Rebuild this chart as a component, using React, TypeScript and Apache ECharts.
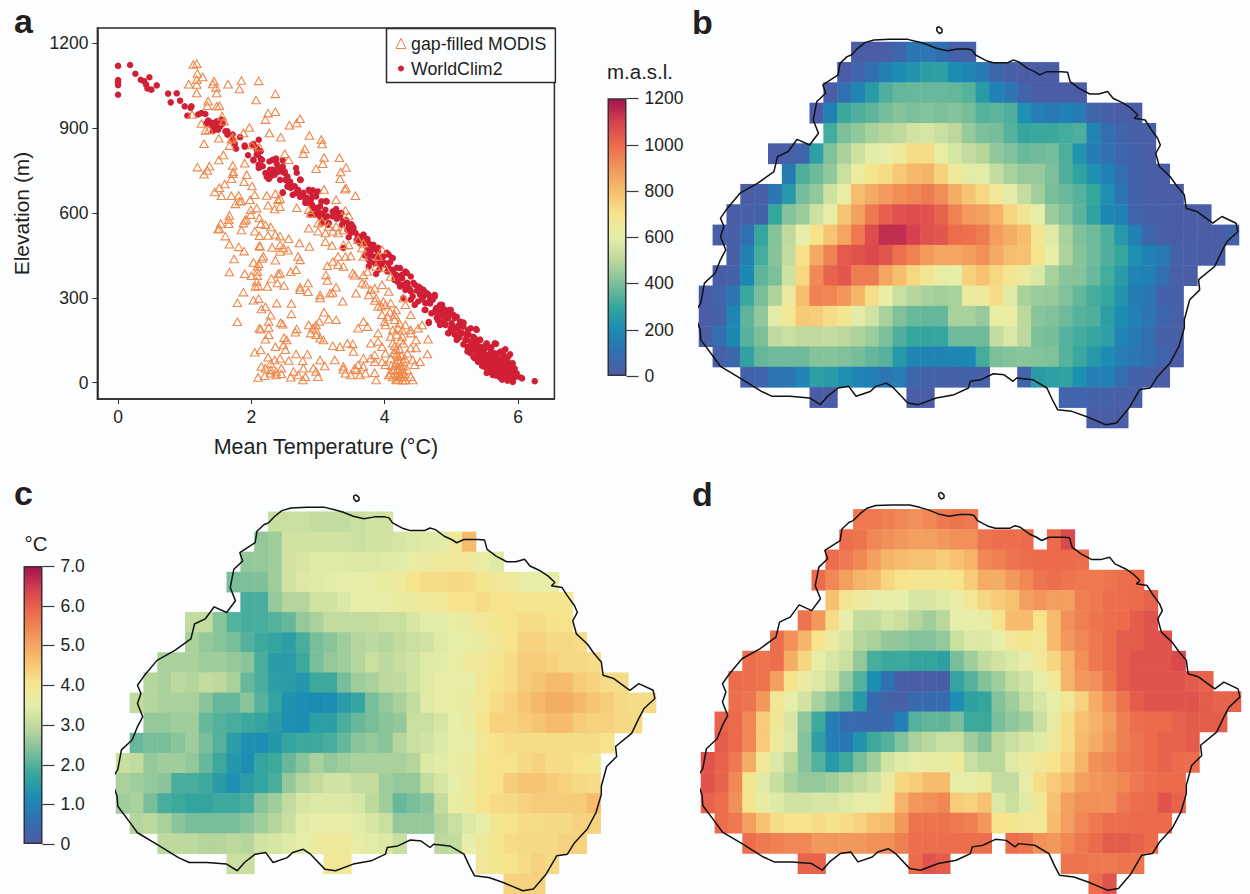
import React, { useEffect, useRef } from "react";
import * as echarts from "echarts";

const FONT = '"Liberation Sans", Arial, sans-serif';
const INK = "#231f20";
const PAGE = "#fcfdfe";

const spectral = ["#505aa5","#2f70b2","#1a8cb5","#36a79c","#7dbf9b","#bcd89c","#e6eea9","#f6e48d","#f6bd6d","#f2955a","#ec6c4b","#d6404f","#a4124f"];

const tempTicks = [0, 2, 4, 6];
const elevTicks = [0, 300, 600, 900, 1200];
const metreTicks = [0, 200, 400, 600, 800, 1000, 1200];
const degreeTicks = [0, 1, 2, 3, 4, 5, 6, 7];

const modisPoints: number[][] = [
[1.13,1125],[1.18,1128],[1.19,1093],[1.27,1081],[1.18,1071],[1.06,1055],[1.18,1054],[1.18,1024],[1.44,1066],[1.42,1056],[1.47,1044],[1.48,1024],[1.65,1055],[1.85,1068],[1.82,1038],[2.11,1067],[2.07,999],[2.36,1021],[1.35,995],[1.34,979],[1.48,977],[1.52,979],[2.25,953],[2.36,958],[2.21,930],[2.73,933],[2.68,918],[2.57,910],[1.11,948],[1.56,942],[1.59,924],[1.25,916],[1.31,892],[1.36,894],[1.97,902],[2.27,883],[2.44,868],[1.88,883],[2.87,874],[3.05,860],[3.06,844],[1.51,864],[1.29,845],[1.67,838],[1.70,861],[1.72,868],[2.01,840],[2.12,833],[2.80,826],[2.78,809],[2.50,809],[1.58,805],[1.51,787],[3.09,796],[3.32,795],[2.56,788],[1.90,776],[1.72,768],[1.19,762],[1.37,765],[1.34,750],[1.29,737],[3.07,774],[2.97,756],[3.42,761],[3.34,745],[3.33,721],[1.72,739],[1.73,746],[1.70,721],[1.93,735],[1.89,710],[1.60,702],[1.52,689],[1.45,674],[1.55,661],[1.70,661],[1.81,662],[2.01,695],[2.05,664],[2.23,662],[2.36,668],[2.43,650],[2.40,647],[1.76,632],[1.82,641],[1.98,647],[1.85,642],[2.25,627],[2.43,622],[2.35,614],[2.68,618],[2.08,617],[3.09,683],[3.40,684],[3.42,688],[3.56,661],[3.27,647],[3.41,609],[3.46,591],[2.86,611],[2.89,599],[1.99,611],[1.99,594],[1.67,591],[1.66,576],[1.92,578],[1.88,564],[1.90,573],[1.54,563],[1.66,562],[1.52,545],[1.50,542],[1.85,540],[2.12,582],[2.14,562],[2.21,558],[2.29,550],[2.05,535],[2.12,519],[2.25,520],[2.36,524],[2.43,518],[2.56,509],[1.61,518],[1.67,489],[1.81,480],[1.89,465],[2.12,484],[2.13,481],[2.31,478],[2.43,487],[2.48,476],[2.43,464],[2.55,468],[2.72,494],[2.87,481],[3.11,498],[3.21,485],[1.74,437],[2.18,446],[2.16,439],[2.36,433],[2.70,446],[2.73,434],[1.67,391],[1.90,385],[2.03,425],[2.11,420],[2.09,411],[2.09,393],[2.00,378],[2.09,378],[2.43,387],[2.59,392],[2.67,399],[2.08,358],[2.10,342],[2.06,340],[2.24,340],[2.30,368],[2.40,384],[2.39,352],[2.49,343],[2.73,337],[2.85,352],[2.73,328],[2.85,321],[1.88,320],[2.11,297],[2.03,291],[1.79,282],[2.38,281],[2.60,280],[2.15,260],[2.21,268],[2.29,238],[2.26,216],[2.60,243],[1.79,215],[2.44,212],[2.47,206],[2.12,192],[2.14,189],[2.26,195],[2.26,169],[2.21,153],[2.68,190],[2.66,178],[2.49,159],[2.53,151],
[2.86,546],[3.00,564],[3.06,570],[3.16,552],[3.27,552],[3.22,535],[3.30,529],[3.38,540],[3.11,529],[3.00,535],[3.60,505],[3.68,493],[3.46,487],[3.38,487],[3.41,446],[3.49,448],[3.30,446],[3.22,428],[3.14,413],[3.66,476],[3.68,446],[3.90,446],[3.96,470],[3.87,411],[4.01,405],[4.09,375],[3.74,393],[3.68,381],[3.38,411],[3.52,387],[3.55,380],[3.30,417],[3.12,381],[3.14,361],[3.27,337],[3.22,319],[3.18,316],[3.03,310],[3.03,299],[3.37,288],[3.57,316],[3.66,352],[3.71,348],[3.79,328],[3.76,310],[3.96,346],[3.85,334],[3.87,299],[3.98,287],[4.06,322],[4.28,299],[4.31,275],[3.90,269],[4.01,275],[4.09,281],[4.17,257],[4.39,240],[3.96,240],[4.04,234],[4.15,222],[4.56,204],[3.68,216],[3.60,192],[3.74,198],[3.90,175],[4.01,204],[4.12,186],[4.20,192],[4.31,204],[4.39,186],[4.50,192],[3.90,145],[4.09,163],[4.26,163],[4.39,175],[4.47,151],[4.65,153],[4.64,101],[4.53,74],[3.79,139],[3.96,127],[4.12,139],[4.28,139],[4.39,122],[4.47,122],[3.85,98],[4.01,104],[4.17,116],[4.34,104],[4.42,80],[3.79,86],[3.96,74],[4.09,86],[4.20,92],[4.28,74],[3.68,86],[3.60,63],[3.85,74],[4.01,63],[4.17,68],[4.28,57],[4.45,63],[4.09,33],[4.20,45],[4.26,33],[4.34,45],[4.39,21],[4.23,21],[4.17,9],[4.31,9],[4.42,9],[4.06,27],[3.87,9],[3.85,35],[3.71,33],[3.63,27],[3.49,27],[3.38,57],[3.38,47],[3.55,51],[3.57,45],[3.68,57],[3.41,33],
[4.15,130],[4.22,120],[4.18,100],[4.25,95],[4.2,80],[4.15,60],[4.24,60],[4.2,50],[4.27,40],[4.14,45],[4.22,30],[4.25,20],[4.18,25],[4.3,30],[4.12,20],[4.2,12],[4.27,8],[4.1,60],[4.22,70],[4.3,85],[4.13,105],[4.24,150],[4.18,170],[4.26,185],[4.22,210],[4.15,240],[4.08,250],[4,215],[3.95,270],[3.85,290],
[3.09,249],[3.16,224],[3.27,222],[3.02,216],[2.97,204],[2.86,204],[2.92,192],[2.97,186],[2.89,175],[2.97,169],[3.03,157],[3.08,151],[3.22,130],[3.33,127],[3.44,139],[3.52,137],[3.53,110],[3.25,80],[3.03,80],[3.10,59],[2.05,107],[2.14,116],[2.36,127],[2.48,133],[2.51,116],[2.67,101],[2.84,100],[2.25,90],[2.35,80],[2.43,86],[2.29,68],[2.56,78],[2.77,77],[2.15,57],[2.21,51],[2.29,45],[2.37,39],[2.45,51],[2.63,39],[2.78,51],[2.93,51],[2.97,39],[2.10,18],[2.20,24],[2.29,33],[2.37,27],[2.45,31],[2.59,19],[2.70,27],[2.81,21],[2.77,9],[3.00,21],
];

const worldClimPoints: number[][] = [
[0,1120],[.18,1123],[.26,1092],[0,1070],[0,1062],[0,1052],[0,1018],[.34,1071],[.39,1066],[.47,1080],[.42,1054],[.44,1040],[.50,1036],[.58,1051],[.75,1022],[.88,1023],[.79,991],[.93,997],[1.0,977],[1.10,977],[1.09,971],[1.04,944],[1.20,948],[1.25,953],[1.31,950],[1.35,927],[1.32,916],[1.39,909],[1.45,918],[1.48,924],[1.55,930],[1.45,906],[1.42,889],[1.50,894],[1.64,889],[1.64,877],[1.72,877],[1.72,859],[1.83,868],[1.75,844],[1.77,827],[1.90,838],[2.03,844],[2.11,859],[2.08,824],[2.14,818],[1.95,804],[2.08,806],[2.03,786],[2.14,791],[2.11,771],[2.17,765],[2.11,759],[2.32,788],[2.37,792],[2.27,782],[2.38,774],[2.47,786],[2.24,739],[2.27,741],[2.32,753],[2.35,735],[2.26,720],[2.47,753],[2.50,741],[2.54,729],[2.67,759],[2.43,717],[2.56,706],[2.54,694],[2.59,688],[2.47,673],[2.65,694],[2.74,717],[2.67,670],[2.78,664],[2.86,682],[2.92,680],[3.00,676],[2.81,647],[2.86,635],[2.97,658],[3.12,642],[3.03,623],[2.88,594],[2.92,617],[3.0,605],[3.07,599],[3.16,564],
[3.27,614],[3.30,599],[3.33,588],[3.38,570],[3.46,552],[3.52,540],[3.49,529],[3.60,517],[3.68,523],[3.46,514],[3.38,476],[3.63,493],[3.71,493],[3.79,487],[3.85,476],[3.74,470],[3.79,452],[3.90,464],[3.98,446],[4.06,452],[4.12,440],[3.76,434],[3.85,422],[3.93,417],[3.76,411],[3.87,384],[4.01,422],[4.12,399],[4.23,405],[4.31,393],[4.17,381],[4.04,393],[4.15,363],[4.26,369],[4.39,375],[4.34,352],[4.45,346],[4.23,340],[4.31,328],[4.39,322],[4.50,340],[4.58,328],[4.66,310],[4.75,310],[4.28,299],[4.39,293],[4.50,287],[4.61,281],[4.72,293],[4.58,304],[4.77,263],[4.86,275],[4.75,251],[4.83,245],[4.91,257],[4.99,257],[4.61,257],[4.66,214],[4.80,228],[4.88,234],[4.96,240],[5.05,228],[5.13,216],[5.18,212],[4.83,210],[4.91,204],[4.99,192],[5.07,192],[5.18,198],[5.29,192],[5.37,189],[4.96,175],[5.05,169],[5.16,175],[5.26,169],[5.35,157],[5.21,151],[5.29,145],[5.43,151],[5.51,133],[5.24,127],[5.32,122],[5.43,127],[5.54,127],[5.67,137],[5.24,110],[5.37,110],[5.48,110],[5.59,116],[5.81,118],[5.35,86],[5.43,92],[5.54,94],[5.65,104],[5.78,98],[5.40,74],[5.51,74],[5.59,80],[5.70,86],[5.84,74],[5.92,68],[5.48,57],[5.56,63],[5.65,63],[5.76,68],[5.86,57],[5.56,39],[5.65,45],[5.73,45],[5.81,51],[5.92,45],[5.62,27],[5.70,27],[5.78,33],[5.86,35],[5.97,27],[5.76,15],[5.84,18],[5.92,6],[5.97,21],[6.04,18],[6.25,5],[5.70,51],[5.78,83],[5.71,66],[5.62,92],[5.54,45],[5.67,35],[5.89,27],[5.84,7],[5.76,45],
[2.21,741],[2.29,729],[2.40,759],[2.45,747],[2.51,717],[2.59,700],[2.70,682],[2.73,664],[2.84,653],[2.89,647],[2.81,635],[2.92,658],[3.05,641],[2.97,617],[3.11,611],[3.03,588],[3.14,588],[3.22,588],[3.30,582],[3.36,558],[3.44,540],[3.52,552],[1.57,916],[1.61,889],[1.53,906],[1.36,924],[1.39,920],
[4.85,250],[4.92,228],[5.0,210],[5.1,200],[5.02,185],[5.12,180],[5.22,170],[5.3,130],[5.38,140],[5.45,100],[5.5,95],[5.58,100],[5.4,100],[5.47,80],[5.6,70],[5.68,72],[5.75,60],[5.8,62],[5.88,45],[5.6,50],[5.7,38],[5.78,20],[5.85,38],[5.9,15],[5.72,60],[5.52,88],[5.64,82],[5.82,88],[5.9,58],
[2.78,671],[2.62,664],[2.73,657],[2.88,675],[2.98,675],[2.83,647],[2.91,629],[2.95,594],[3.03,587],[3.13,640],[3.1,583],[3.15,558],[3.06,565],[2.5,746],[2.58,711],[2.55,693],[2.4,746],[2.31,742],[2.23,728],[2.28,753],[2.13,764],[2.16,788],[2.1,806],[2.08,831],[2.01,841],[1.9,834],[2.03,788],[2.35,788],[2.47,764],[2.68,742],[2.73,718],[2.47,671],
[3.48,547],[3.43,569],[3.53,547],[3.68,523],[3.75,495],[3.83,487],[3.9,477],[4.03,459],[4.11,441],[3.78,459],[3.85,445],[3.78,427],[3.93,427],[4.0,417],[4.18,406],[4.33,388],[4.26,381],[4.15,371],[4.33,353],[4.43,353],[4.53,335],[4.38,328],[4.28,346],[4.63,317],[4.75,304],[4.53,311],[4.45,275],[4.6,257],[4.68,293],[4.66,211],[4.78,264],[4.86,268],[4.78,229],[4.88,240],[4.9,211],[4.83,204],[4.95,229],
[4.83,275],[4.78,247],[4.9,257],[4.98,257],[4.95,229],[5.03,240],[5.08,233],[5.01,204],[4.95,175],[5.08,151],[5.1,193],[5.18,211],[5.25,186],[5.38,186],[5.33,162],[5.23,151],[5.25,116],[5.35,139],[5.43,151],[5.53,139],[5.65,139],[5.48,116],[5.33,91],[5.4,74],[5.5,57],[5.61,34],[5.76,10],[5.92,2],[6.06,15],[5.98,33],[5.91,68],[5.8,116],[5.73,80],[5.8,52],[5.63,91],[5.55,98],[5.53,34],[5.68,34],[5.83,27],[5.91,38],[5.58,63],[5.68,63],[5.76,57],[5.85,91],[5.7,104],[5.43,98],[5.48,80],
[3.22,605],[3.28,580],[3.35,600],[3.42,575],[3.5,560],[3.56,530],[3.58,505],[3.66,505],[3.74,508],[3.82,470],[3.7,450],[3.9,445],[3.96,430],[4.08,425],[4.06,405],[3.92,400],[4.14,385],[4.22,375],[4.2,355],[4.36,335],[4.48,325],[4.42,305],[4.56,295],[4.68,280],[4.7,245],[4.8,220],[4.88,215],[5.12,160],[5.18,135],[5.28,105],[5.38,120],[5.44,115],[5.5,120],[5.6,125],[5.46,60],[5.55,50],[5.66,50],[5.72,20],[5.66,25],[5.88,22],[5.95,50],[5.74,110],[5.88,100],[5.58,80],[5.68,95],
];

// each row: one or more [startColumn, ...values] runs
const elevationRows: number[][][] = [
[[11,15,15,25,60,120,120,95,35,25]],
[[10,15,50,95,160,205,230,270,270,205,170,135,60,25,15,15,15]],
[[9,15,95,170,255,335,365,370,370,370,365,345,255,160,120,50,15,15,15,15]],
[[8,15,160,305,335,355,390,415,400,410,400,415,390,345,355,335,215,150,135,160,135,50,25,15,15]],
[[9,320,400,430,470,490,510,550,560,530,500,440,400,390,345,295,305,305,320,335,170,95,50,25,25]],
[[5,15,25,50,270,405,470,540,590,600,650,720,720,620,560,520,490,430,405,370,380,390,335,230,140,95,50,35,15]],
[[6,135,335,380,430,530,630,700,720,770,810,820,750,650,590,590,520,470,440,440,400,335,280,215,160,95,35,25,15]],
[[3,15,25,120,245,390,430,540,620,800,850,890,920,940,960,920,840,780,730,660,590,520,460,395,370,345,295,215,120,35,25,15,15]],
[[2,15,25,35,295,415,450,540,620,780,870,970,1030,1060,1070,1060,1020,950,890,870,830,740,680,600,450,405,355,280,190,160,50,25,25,15,15,15]],
[[1,15,25,95,295,415,510,600,700,780,860,970,1070,1140,1140,1100,1060,1050,1000,990,960,880,840,800,690,580,470,405,380,335,245,160,60,25,15,15,15,15,35]],
[[2,25,160,320,415,520,710,850,950,1040,1060,1080,1050,990,950,890,860,860,880,910,850,800,790,700,600,480,415,380,335,295,215,160,135,35,25,15,15]],
[[1,15,35,190,355,400,540,730,930,1020,1050,960,960,860,800,730,680,620,600,750,790,730,690,640,570,470,420,415,370,320,255,170,160,95,25,15]],
[[0,15,50,120,305,395,480,640,800,950,940,900,820,720,620,530,490,470,460,470,640,650,720,580,470,450,440,405,365,320,295,230,140,120,35,25]],
[[0,15,35,170,355,430,590,670,770,760,720,690,590,550,470,405,370,365,365,470,470,440,620,630,500,420,405,380,345,335,270,205,160,120,60,25]],
[[0,15,95,190,345,400,510,530,510,510,520,500,480,450,400,335,295,295,295,380,380,380,520,570,500,400,390,345,320,295,270,170,135,95,25,25]],
[[1,25,60,280,365,380,380,380,415,415,405,390,365,345,245,170,170,165,175,190,320,400,410,420,410,405,345,305,245,205,150,120,95,50,15]],
[[3,35,50,120,120,170,270,255,215,170,160,120,150,60,35,35,25,35,25],[23,50,255,270,280,215,150,160,95,35,25,15]],
[[8,15,15],[15,15,15],[26,50,50,35,35,25,25]],
[[28,15,15,15]],
];

const modisRows: number[][][] = [
[[11,3.1,3.1,3.1,3.0,3.0,3.0,3.1,3.2,3.2]],
[[10,2.55,2.65,3.2,3.2,3.2,3.2,3.2,3.1,3.2,3.2,3.3,3.35,3.4,3.45,3.8,4.7]],
[[9,2.55,2.55,2.65,3.2,3.3,3.4,3.4,3.4,3.35,3.35,3.4,3.45,3.6,3.7,3.8,3.85,3.8,3.6,3.4]],
[[8,2.3,2.35,2.35,2.65,3.2,3.35,3.4,3.45,3.5,3.5,3.6,3.7,3.8,4.1,4.2,4.2,4.25,4.2,4.0,3.9,3.8,3.6,3.5,3.5]],
[[9,1.9,1.9,2.55,2.85,2.85,3.2,3.2,3.35,3.5,3.5,3.6,3.7,3.7,3.8,3.9,4.1,4.1,4.2,4.1,4.1,4.0,4.0,4.0,4.0]],
[[5,3.0,3.0,2.45,2.0,1.9,1.9,2.0,2.15,2.55,2.75,3.0,3.0,3.0,3.0,3.1,3.1,3.3,3.45,3.45,3.6,3.7,3.9,4.0,4.1,4.2,4.2,4.1,4.1]],
[[5,2.75,2.55,2.45,2.3,2.0,1.8,1.7,1.55,1.9,2.3,2.45,2.65,2.85,2.95,2.85,3.0,3.1,3.2,3.4,3.5,3.6,3.7,3.9,4.1,4.35,4.35,4.25,4.25,4.2]],
[[3,2.75,2.75,2.75,2.65,2.65,2.55,2.45,1.9,1.5,1.5,1.8,2.3,2.55,2.65,2.85,3.1,2.95,3.1,3.2,3.4,3.45,3.6,3.8,3.9,4.0,4.2,4.45,4.45,4.35,4.25,4.25,4.2]],
[[2,2.85,2.75,2.95,2.85,3.0,2.95,2.75,2.15,1.9,1.55,1.5,1.4,1.8,1.8,2.3,2.65,2.75,2.95,3.0,3.2,3.4,3.6,3.6,3.6,3.9,4.1,4.2,4.45,4.55,4.7,4.7,4.45,4.35,4.2,4.2]],
[[1,3.0,2.85,2.75,2.75,2.75,2.45,2.15,2.15,2.45,2.0,1.7,1.3,1.2,1.15,1.2,1.5,1.7,2.3,2.55,2.75,3.0,3.4,3.6,3.6,3.7,3.9,4.2,4.35,4.55,4.75,4.9,4.9,4.75,4.55,4.45,4.25,4.2,4.2]],
[[2,2.55,2.55,2.65,2.65,2.15,2.0,1.9,1.8,1.7,1.5,1.25,1.2,1.55,1.55,1.9,2.15,2.3,2.45,2.55,3.1,3.1,3.3,3.5,3.7,4.0,4.35,4.35,4.45,4.55,4.7,4.7,4.45,4.35,4.35,4.25,4.25]],
[[1,2.15,2.3,2.3,2.45,2.65,2.3,2.0,1.55,1.25,1.2,1.4,1.7,1.8,1.8,1.9,2.15,2.45,2.55,2.45,2.85,3.1,3.2,3.35,3.5,3.6,3.9,4.1,4.2,4.2,4.2,4.2,4.2,4.2,4.2,4.1]],
[[0,3.1,3.0,2.55,2.65,2.65,2.55,2.15,1.8,1.4,1.2,1.7,1.8,2.15,2.45,2.75,2.55,2.65,2.75,2.75,2.75,2.75,2.85,3.35,3.45,3.6,3.7,4.0,4.1,4.1,4.25,4.35,4.2,4.2,4.1,4.0]],
[[0,2.75,2.65,2.55,2.45,1.9,1.9,1.8,1.5,1.25,1.5,1.7,1.9,2.55,2.85,3.0,3.2,3.2,3.0,3.0,2.65,2.55,2.55,3.0,3.3,3.5,3.8,4.0,4.1,4.45,4.55,4.55,4.45,4.35,4.25,4.2]],
[[0,2.65,2.75,2.3,1.9,1.8,1.7,1.7,1.8,1.8,1.9,2.45,2.65,3.0,3.3,3.35,3.35,3.35,3.3,2.95,2.65,2.15,2.3,2.45,3.0,3.6,3.8,4.1,4.2,4.25,4.35,4.45,4.45,4.45,4.45,4.7]],
[[1,2.85,2.95,2.75,2.45,2.3,2.3,2.3,2.3,2.45,2.65,2.85,3.1,3.45,3.5,3.6,3.6,3.45,3.3,3.1,2.55,2.55,2.55,2.85,3.1,3.35,3.5,4.0,4.1,4.2,4.2,4.25,4.25,4.35,4.35]],
[[3,2.95,2.95,2.95,2.85,2.85,2.95,2.85,3.2,3.3,3.4,3.5,3.7,3.8,3.8,3.6,3.45,3.35,3.1],[23,2.95,3.0,3.5,3.8,4.0,4.2,4.25,4.25,4.25,4.35,4.35]],
[[8,3.1,3.1],[15,3.9,3.9],[26,3.9,4.0,4.1,4.2,4.35,4.25]],
[[28,4.35,4.35,4.35]],
];

const worldClimRows: number[][][] = [
[[11,5.65,5.65,5.55,5.45,5.3,5.45,5.65,5.7,5.65]],
[[10,5.8,5.7,5.45,5.3,5.2,5.1,5.1,5.2,5.3,5.3,5.7,5.8,5.8,5.85],[25,5.85,6.3]],
[[9,5.8,5.65,5.45,5.1,4.8,4.7,4.6,4.6,4.45,4.6,4.8,5.45,5.55,5.7,5.8,5.85,5.85,5.85,5.8]],
[[8,5.85,5.45,5.1,4.8,4.7,4.3,4.1,4.0,4.0,4.0,4.1,4.45,4.9,4.9,5.2,5.45,5.7,5.8,5.7,5.65,5.65,5.7,5.8,5.85]],
[[9,4.6,4.0,3.75,3.55,3.55,3.5,3.3,3.3,3.4,3.55,3.9,4.3,4.45,4.6,5.1,5.2,5.1,5.1,5.55,5.65,5.8,5.8,5.85,5.95]],
[[7,5.7,5.2,4.2,3.5,3.0,3.0,3.2,3.1,2.85,2.65,2.9,3.5,3.5,3.55,4.1,4.7,4.7,4.1,4.7,5.3,5.55,5.7,5.8,5.85,6.05,6.15]],
[[5,5.8,5.3,4.8,4.1,3.65,3.3,2.85,2.75,2.55,2.5,2.4,2.4,2.55,3.1,3.35,3.35,3.5,3.85,4.0,3.9,4.7,5.2,5.45,5.65,5.8,6.05,6.05,6.15,6.15]],
[[3,5.8,5.7,5.8,4.9,4.3,3.55,3.3,3.1,2.55,1.9,1.8,1.8,1.7,1.7,1.6,2.3,2.65,3.0,3.2,3.35,3.55,3.85,4.3,4.8,5.3,5.65,5.8,6.05,6.15,6.15,6.15,6.3]],
[[2,5.85,5.8,5.7,5.1,4.1,3.65,3.35,3.1,2.55,2.0,1.2,.6,.1,.1,.1,.1,1.7,2.0,2.4,2.65,3.0,3.2,3.5,3.85,4.8,5.2,5.3,5.7,6.05,6.15,6.15,6.15,6.15,6.05,5.95]],
[[2,5.8,5.7,5.2,3.9,3.5,3.2,2.75,2.4,2.1,1.45,.45,.2,.15,.4,.45,.45,1.2,1.6,1.7,2.4,2.65,3.0,3.3,3.5,3.9,4.35,4.9,5.3,5.7,6.05,6.15,6.15,6.15,6.15,6.05,5.95,5.95]],
[[1,5.95,5.85,5.45,4.45,3.85,3.3,2.5,1.8,.9,.45,.4,.35,.4,.9,2.0,2.1,2.1,2.3,1.8,1.8,2.3,2.5,2.65,3.1,3.65,4.2,4.6,4.8,5.1,5.55,5.8,5.85,5.85,5.95,6.05,6.05,6.05]],
[[1,6.05,5.85,5.45,4.45,3.75,3.35,2.4,1.6,.9,.75,1.35,1.8,2.0,2.4,2.75,2.9,3.1,3.1,2.65,2.4,2.9,3.1,3.3,3.4,3.75,4.2,4.7,4.9,5.2,5.55,5.7,5.85,5.95,5.95,6.05]],
[[0,6.15,5.95,5.65,4.9,3.9,3.35,2.9,2.4,2.0,1.45,1.8,2.3,2.65,3.2,3.4,3.55,3.65,3.65,3.75,3.1,2.9,2.9,3.4,3.65,3.85,4.1,4.35,4.8,5.3,5.45,5.65,5.7,5.85,5.95,5.85,5.8]],
[[0,6.15,5.95,5.45,4.0,3.4,3.1,2.75,2.55,2.55,2.65,2.85,3.0,3.2,3.65,4.3,4.45,4.7,4.7,3.55,3.5,3.75,3.0,3.0,3.55,4.2,4.45,4.7,5.1,5.2,5.3,5.45,5.65,5.8,5.85,5.85]],
[[0,5.95,5.8,5.3,4.0,3.65,3.4,3.2,3.2,3.3,3.3,3.4,3.55,3.55,3.85,4.8,5.2,5.3,5.45,4.45,4.35,4.6,3.35,3.1,3.4,3.9,4.6,5.1,5.3,5.3,5.3,5.65,5.8,5.85,6.15,5.95]],
[[1,5.8,5.65,5.1,4.6,4.2,4.1,4.1,4.2,4.1,4.2,4.35,4.6,4.7,5.2,5.7,5.7,5.7,5.65,5.55,5.2,4.1,4.0,3.9,3.9,4.7,5.1,5.45,5.65,5.8,5.8,5.85,5.85,5.85]],
[[3,5.8,5.65,5.55,5.45,5.45,5.2,5.2,5.2,5.2,5.3,5.3,5.55,5.8,5.8,5.8,5.8,5.8,5.8],[22,5.8,5.7,5.3,5.2,5.45,5.65,5.85,6.05,6.05,5.95,5.85]],
[[7,5.95,5.95],[15,5.85,6.15,6.05],[26,5.7,5.7,5.65,5.65,5.7,5.7]],
[[28,5.8,6.15]],
];

const coastline: number[][] = [
[11,.64],[11.47,.31],[11.98,.03],[12.63,-.1],[13.79,-.13],[15.08,-.13],[15.85,0],[16.37,.1],[17.14,.31],[17.91,.43],[18.69,.34],[19.41,.34],[19.72,.39],[19.97,.64],[20.75,.92],[21.26,1.02],[22.29,1.02],[22.68,.89],[23.07,.97],[23.71,1.3],[24.23,1.46],[24.61,1.62],[25.13,1.46],[26.16,1.46],[26.62,1.49],[26.8,1.95],[27.45,2.28],[28.22,2.56],[28.87,2.56],[29.51,2.44],[29.9,2.77],[30.67,3.02],[31.19,3.26],[31.7,3.59],[31.44,3.75],[32.22,3.84],[32.6,4.25],[33.12,4.74],[33.32,5.07],[32.99,5.48],[33.25,6.13],[34.02,6.62],[34.54,7.11],[35.05,7.52],[35.18,8.18],[35.95,8.34],[37.11,8.92],[37.76,8.59],[38.79,8.92],[38.92,9.33],[38.14,9.82],[37.76,10.31],[37.24,11.05],[36.08,11.7],[36.16,12.2],[35.44,12.69],[35.05,13.67],[35.05,14.08],[34.66,14.98],[34.02,15.8],[33.12,16.46],[32.6,17.03],[31.83,17.11],[31.06,18.02],[30.15,18.75],[29.38,18.84],[27.96,18.43],[26.93,18.18],[25.9,18.1],[25.52,17.61],[25.13,17.03],[24.1,16.62],[22.94,16.54],[22.68,16.7],[22.04,16.38],[21.26,16.33],[20.36,16.62],[19.59,16.7],[19.46,17.03],[18.43,17.36],[17.14,17.52],[15.85,17.85],[15.08,17.77],[14.05,17.03],[13.53,16.79],[12.76,16.95],[12.37,17.2],[11.34,17.44],[10.82,16.95],[10.05,17.03],[9.28,17.44],[8.76,17.85],[7.99,17.52],[6.57,17.44],[5.28,17.44],[4.51,17.2],[2.96,16.54],[1.55,15.97],[1.03,15.48],[.13,14.66],[.08,14.16],[-.34,13.34],[.13,12.85],[.39,11.87],[1.16,11.38],[1.55,10.72],[1.93,10.23],[1.55,9.57],[1.8,9.08],[1.55,8.67],[2.06,8.18],[2.96,7.44],[4.25,6.95],[5.41,6.38],[5.67,5.64],[6.44,5.39],[7.09,4.79],[7.99,5.07],[8.63,4.49],[8.25,3.84],[8.51,2.93],[9.15,2.52],[8.94,2.11],[10.05,1.62],[10.18,1.05],[10.7,.72],[11,.64],
];
const islet: number[][] = [[17.35,-.75],[17.55,-.62],[17.55,-.48],[17.35,-.42],[17.18,-.55],[17.17,-.7],[17.35,-.75]];

const COLS = 39;
const ROWS = 19;
const columns = Array.from({ length: COLS }, (_, i) => String(i));
const rowNames = Array.from({ length: ROWS }, (_, i) => String(i));

function toCells(rows: number[][][]) {
  const out: number[][] = [];
  rows.forEach((runs, r) => runs.forEach(([start, ...vals]) => vals.forEach((v, i) => out.push([start + i, r, v]))));
  return out;
}

const maps = [
  { rows: elevationRows, max: 1200, left: 699, top: 42, dy: 0 },
  { rows: modisRows, max: 7, left: 116, top: 511.7, dy: -1.7 },
  { rows: worldClimRows, max: 7, left: 701, top: 509.3, dy: -1.7 },
];
const MAP_W = 540;
const MAP_H = 386;

const DOT_ICON = "path://M0,0M10,10M5,2A3,3,0,1,1,4.99,2Z";

const letter = (text: string, x: number, y: number) => ({
  type: "text", x, y, silent: true,
  style: { text, fill: INK, font: `bold 34px ${FONT}`, verticalAlign: "bottom" },
});
const note = (text: string, x: number, y: number) => ({
  type: "text", x, y, silent: true,
  style: { text, fill: INK, font: `20.5px ${FONT}`, align: "center", verticalAlign: "middle" },
});
const labels = () => [
  letter("a", 14, 38), letter("b", 692, 39), letter("c", 14, 510), letter("d", 692, 511),
  note("m.a.s.l.", 640, 71), note("°C", 36, 543),
];

function buildOption() {
  const axisText = { color: INK, fontFamily: FONT, fontSize: 17.5 };
  const grid: any[] = [
    { left: 97.4, top: 28, width: 457, height: 371, show: true, borderColor: "#2b2b2b", borderWidth: 1.5, backgroundColor: "transparent" },
    { left: 607.5, top: 98.3, width: 19, height: 277.7 },
    { left: 23.5, top: 566, width: 19, height: 278 },
  ];
  const xAxis: any[] = [
    { type: "value", gridIndex: 0, min: -0.31, max: 6.545, splitLine: { show: false },
      name: "Mean Temperature (°C)", nameLocation: "middle", nameGap: 37, nameTextStyle: { ...axisText, fontSize: 21.5 },
      axisLine: { onZero: false, lineStyle: { color: "#2b2b2b", width: 1.5 } },
      axisTick: { customValues: tempTicks, length: 5, lineStyle: { color: "#2b2b2b", width: 1 } },
      axisLabel: { ...axisText, customValues: tempTicks, margin: 9 } },
    { type: "category", gridIndex: 1, data: ["m"], show: false },
    { type: "category", gridIndex: 2, data: ["c"], show: false },
  ];
  const cbAxis = (gridIndex: number, max: number, ticks: number[], fmt: (v: number) => string) => ({
    type: "value", gridIndex, position: "right", min: 0, max, splitLine: { show: false },
    axisLine: { show: false },
    axisTick: { show: false },
    axisLabel: { ...axisText, customValues: ticks, margin: 18, formatter: fmt },
  });
  const yAxis: any[] = [
    { type: "value", gridIndex: 0, min: -58, max: 1254, splitLine: { show: false },
      name: "Elevation (m)", nameLocation: "middle", nameGap: 65, nameTextStyle: { ...axisText, fontSize: 21 },
      axisLine: { onZero: false, lineStyle: { color: "#2b2b2b", width: 1.5 } },
      axisTick: { customValues: elevTicks, length: 5, lineStyle: { color: "#2b2b2b", width: 1 } },
      axisLabel: { ...axisText, customValues: elevTicks, margin: 9, formatter: (v: number) => String(v) } },
    cbAxis(1, 1200, metreTicks, (v) => String(v)),
    cbAxis(2, 7, degreeTicks, (v) => (v === 0 ? "0" : v.toFixed(1))),
  ];
  const gradient = () => new echarts.graphic.LinearGradient(0, 1, 0, 0,
    spectral.map((color, i) => ({ offset: i / (spectral.length - 1), color })));
  const series: any[] = [
    { type: "scatter", name: "WorldClim2", xAxisIndex: 0, yAxisIndex: 0, data: worldClimPoints, symbol: "circle", symbolSize: 6.5, z: 3,
      itemStyle: { color: "#d11f35", opacity: 1 } },
    { type: "scatter", name: "gap-filled MODIS", xAxisIndex: 0, yAxisIndex: 0, data: modisPoints, symbol: "triangle", symbolSize: [8.5, 7.5], z: 4,
      itemStyle: { color: "none", borderColor: "#f0884a", borderWidth: 1.1, opacity: 1 } },
    { type: "bar", xAxisIndex: 1, yAxisIndex: 1, data: [1200], barWidth: "100%", silent: true, z: 1, itemStyle: { color: gradient(), borderColor: "#333", borderWidth: 1.5 } },
    { type: "bar", xAxisIndex: 2, yAxisIndex: 2, data: [7], barWidth: "100%", silent: true, z: 1, itemStyle: { color: gradient(), borderColor: "#333", borderWidth: 1.5 } },
  ];
  const visualMap: any[] = [];
  maps.forEach((m) => {
    const cellIdx = grid.length;
    const base = { width: MAP_W, height: MAP_H };
    grid.push({ left: m.left, top: m.top, ...base });
    grid.push({ left: m.left, top: m.top + m.dy, ...base });
    xAxis.push({ type: "category", gridIndex: cellIdx, data: columns, show: false });
    yAxis.push({ type: "category", gridIndex: cellIdx, data: rowNames, inverse: true, show: false });
    xAxis.push({ type: "value", gridIndex: cellIdx + 1, min: 0, max: COLS, show: false });
    yAxis.push({ type: "value", gridIndex: cellIdx + 1, min: 0, max: ROWS, inverse: true, show: false });
    visualMap.push({ show: false, type: "continuous", min: 0, max: m.max, seriesIndex: series.length, inRange: { color: spectral } });
    series.push({ type: "heatmap", xAxisIndex: cellIdx, yAxisIndex: cellIdx, data: toCells(m.rows), progressive: 0, silent: true, z: 2 });
    [coastline, islet].forEach((line) => series.push({
      type: "line", xAxisIndex: cellIdx + 1, yAxisIndex: cellIdx + 1, data: line, symbol: "none", clip: false, silent: true, z: 5,
      lineStyle: { color: "#111", width: 1.5 },
    }));
  });
  return {
    animation: false,
    backgroundColor: PAGE,
    grid, xAxis, yAxis, series, visualMap,
    legend: {
      show: true, orient: "vertical", left: 386.5, top: 28.5, padding: [6, 9, 5, 7], itemGap: 7,
      itemWidth: 10, itemHeight: 10, selectedMode: false, z: 10,
      backgroundColor: PAGE, borderColor: "#2b2b2b", borderWidth: 1.5, borderRadius: 0,
      textStyle: { ...axisText, fontSize: 17.8 },
      data: [
        { name: "gap-filled MODIS", icon: "triangle", itemStyle: { color: "none", borderColor: "#f0884a", borderWidth: 1 } },
        { name: "WorldClim2", icon: DOT_ICON, itemStyle: { color: "#d11f35", borderWidth: 0 } },
      ],
    },
    graphic: labels(),
  };
}

export default function App() {
  const ref = useRef<HTMLDivElement>(null);
  useEffect(() => {
    document.body.style.margin = "0";
    const chart = echarts.init(ref.current!, undefined, { renderer: "svg" });
    chart.setOption(buildOption() as any);
    const tickMarks = (yAxisIndex: number, ticks: number[], x: number) => ticks.map((v) => {
      const y = Math.round(chart.convertToPixel({ yAxisIndex } as any, v) as number) + 0.5;
      return { type: "line", z: 100, silent: true, shape: { x1: x, y1: y, x2: x + 12, y2: y }, style: { stroke: "#3a3a3a", lineWidth: 1.2 } };
    });
    chart.setOption({ graphic: [...labels(), ...tickMarks(1, metreTicks, 626.5), ...tickMarks(2, degreeTicks, 42.5)] } as any);
    return () => chart.dispose();
  }, []);
  return <div ref={ref} style={{ position: "absolute", left: 0, top: 0, width: 1250, height: 894 }} />;
}
